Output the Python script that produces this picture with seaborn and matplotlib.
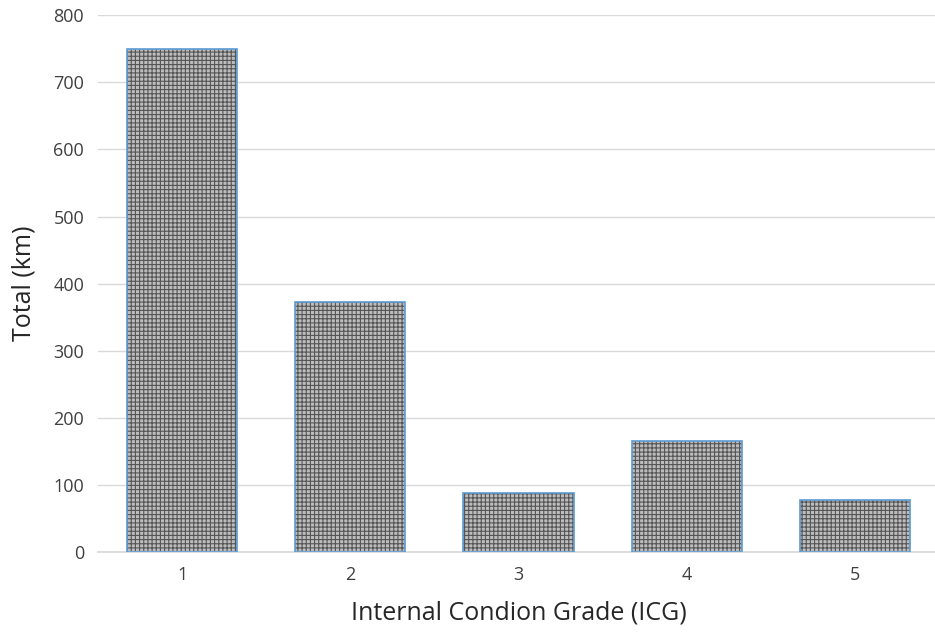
import matplotlib
matplotlib.use("Agg")
import matplotlib.pyplot as plt
import seaborn as sns
import pandas as pd

grades = ["1", "2", "3", "4", "5"]
totals = [750, 373, 88, 166, 78]
yticks = [0, 100, 200, 300, 400, 500, 600, 700, 800]

sns.set_theme(style="white")
plt.rcParams['font.family'] = ['Open Sans', 'DejaVu Sans']
plt.rcParams['hatch.linewidth'] = 0.8

df = pd.DataFrame({"grade": grades, "total": totals})

fig = plt.figure(figsize=(9.35, 6.34), dpi=100)
ax = fig.add_axes([0.1048, 0.129, 0.8995, 0.847])

sns.barplot(data=df, x="grade", y="total", color="#bdbdbd", width=0.655,
            saturation=1, ax=ax, zorder=2)
for p in ax.patches:
    p.set_hatch("++++")
    p.set_edgecolor("#555555")
    p.set_linewidth(0)
ax.bar(range(len(grades)), totals, width=0.655, fill=False,
       edgecolor="#5b9bd5", linewidth=1.2, zorder=3)

ax.set_ylim(0, 800)
ax.set_xlim(-0.5, 4.5)
ax.set_yticks(yticks)
ax.yaxis.grid(True, color="#d9d9d9", linewidth=1)
ax.set_axisbelow(True)
for s in ["top", "right", "left"]:
    ax.spines[s].set_visible(False)
ax.spines["bottom"].set_color("#d9d9d9")
ax.tick_params(axis="both", length=0, labelsize=13, colors="#404040", pad=10)
ax.set_xlabel("Internal Condion Grade (ICG)", fontsize=18, color="#262626", labelpad=12)
ax.set_ylabel("Total (km)", fontsize=18, color="#262626", labelpad=12)

fig.savefig("out.png", dpi=100)
